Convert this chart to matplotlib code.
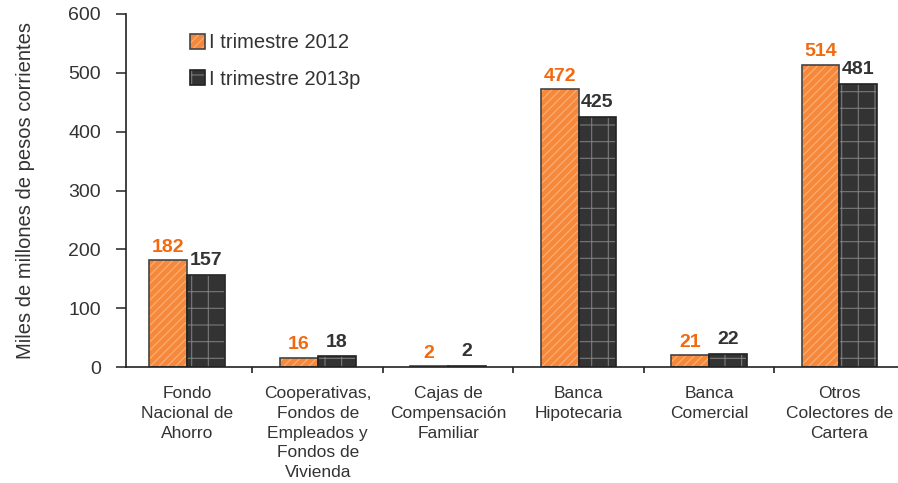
import matplotlib
matplotlib.use("Agg")
import matplotlib.pyplot as plt
import numpy as np

categories = ["Fondo\nNacional de\nAhorro", "Cooperativas,\nFondos de\nEmpleados y\nFondos de\nVivienda",
              "Cajas de\nCompensación\nFamiliar", "Banca\nHipotecaria", "Banca\nComercial",
              "Otros\nColectores de\nCartera"]
s2012 = [182, 16, 2, 472, 21, 514]
s2013 = [157, 18, 2, 425, 22, 481]
labels2012 = ["182", "16", "2", "472", "21", "514"]
labels2013 = ["157", "18", "2", "425", "22", "481"]
series_names = ["I trimestre 2012", "I trimestre 2013p"]

plt.rcParams['font.family'] = ['Liberation Sans', 'DejaVu Sans']
plt.rcParams['hatch.linewidth'] = 0.8

fig = plt.figure(figsize=(8.98, 4.83), dpi=100)
ax = fig.add_axes([126/898, 116/483, 1 - 126/898, 353/483])

x = np.arange(len(categories))
w = 0.29
orange = "#F5883A"
dark = "#333333"
b1 = ax.bar(x - w/2, s2012, w, color=orange, edgecolor="#444444", linewidth=1.2,
            hatch="////", label=series_names[0])
b2 = ax.bar(x + w/2, s2013, w, color=dark, edgecolor="#222222", linewidth=1.2,
            hatch="+", label=series_names[1])

for p in b1:
    p._hatch_color = matplotlib.colors.to_rgba("#FDB27A")
for p in b2:
    p._hatch_color = matplotlib.colors.to_rgba("#7a7a7a")

for xi, v, t in zip(x, s2012, labels2012):
    ax.text(xi - w/2, v + 7, t, ha="center", va="bottom", fontsize=14, fontweight="bold", color="#F26A0F")
for xi, v, t in zip(x, s2013, labels2013):
    ax.text(xi + w/2, v + 10, t, ha="center", va="bottom", fontsize=14, fontweight="bold", color="#333333")

ax.set_xlim(-0.47, 5.45)
ax.set_ylim(0, 600)
ax.set_yticks(range(0, 601, 100))
ax.tick_params(axis="y", labelsize=14, direction="out", length=7, pad=11, colors="#333333",
               width=1.2)
ax.set_xticks(x)
ax.set_xticklabels(categories, fontsize=12.5, color="#333333", va="top", linespacing=1.38)
ax.tick_params(axis="x", length=0, pad=14)
ax.set_xticks(x[:-1] + 0.5, minor=True)
ax.tick_params(axis="x", which="minor", length=4, direction="out", width=1.2, color="#222222")
for s in ["top", "right"]:
    ax.spines[s].set_visible(False)
ax.spines["left"].set_color("#222222")
ax.spines["bottom"].set_color("#222222")
ax.spines["left"].set_linewidth(1.2)
ax.spines["bottom"].set_linewidth(1.2)
ax.set_ylabel("Miles de millones de pesos corrientes", fontsize=14.5, color="#333333", labelpad=24)

leg = ax.legend(loc="upper left", bbox_to_anchor=(0.065, 0.985), frameon=False, fontsize=14.5,
                handlelength=0.75, handleheight=0.75, handletextpad=0.2, labelspacing=0.85,
                borderaxespad=0.3)
for t in leg.get_texts():
    t.set_color("#333333")

fig.savefig("out.png", dpi=100)
